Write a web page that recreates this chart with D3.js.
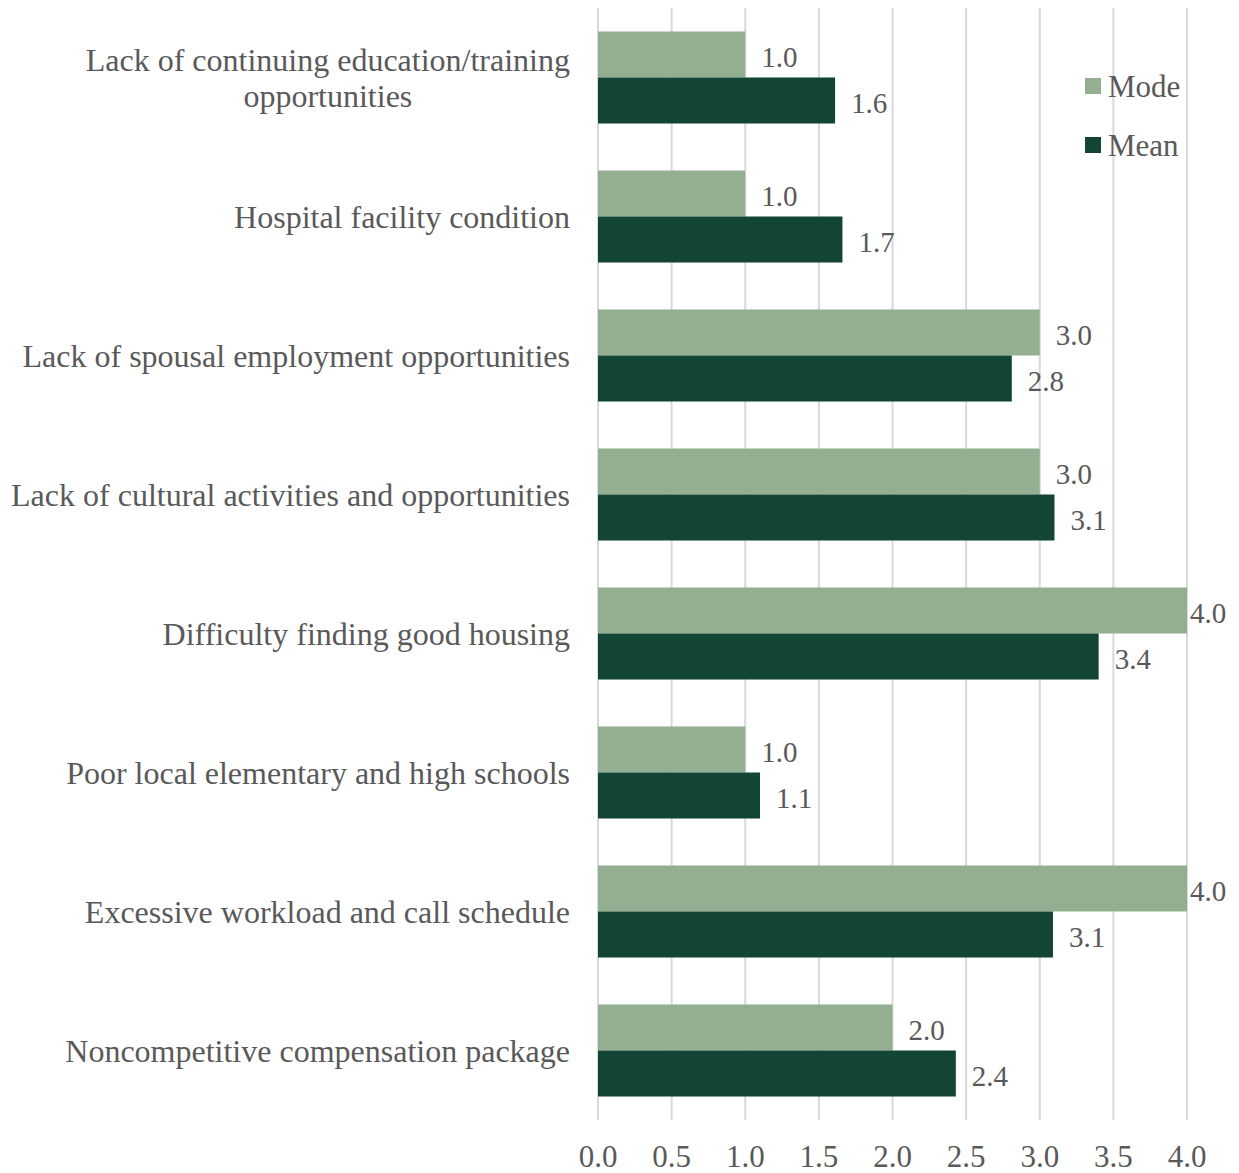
<!DOCTYPE html>
<html>
<head>
<meta charset="utf-8">
<script src="https://cdn.jsdelivr.net/npm/d3@7"></script>
<style>
  body { margin: 0; background: #fff; }
  svg { display: block; font-family: "Liberation Serif", "Times New Roman", serif; }
</style>
</head>
<body>
<svg width="1239" height="1173"></svg>
<script>
// data, top to bottom
const categories = [
  "Lack of continuing education/training opportunities",
  "Hospital facility condition",
  "Lack of spousal employment opportunities",
  "Lack of cultural activities and opportunities",
  "Difficulty finding good housing",
  "Poor local elementary and high schools",
  "Excessive workload and call schedule",
  "Noncompetitive compensation package"
];
const seriesNames = ["Mode", "Mean"];
const modeValues = [1.0, 1.0, 3.0, 3.0, 4.0, 1.0, 4.0, 2.0];
const meanValues = [1.61, 1.66, 2.81, 3.10, 3.40, 1.10, 3.09, 2.43];
const xTicks = [0, 0.5, 1, 1.5, 2, 2.5, 3, 3.5, 4];

const colors = { Mode: "#94ae92", Mean: "#124533" };
const textColor = "#595959";

const svg = d3.select("svg");

const x = d3.scaleLinear().domain([0, 4]).range([598, 1187]);
const y = d3.scaleBand().domain(categories).range([8, 1120])
  .paddingInner(0.338).paddingOuter(0.169);
const ySub = d3.scaleBand().domain(seriesNames).range([0, y.bandwidth()]);

// gridlines
svg.append("g")
  .selectAll("line")
  .data(xTicks)
  .join("line")
  .attr("x1", d => x(d)).attr("x2", d => x(d))
  .attr("y1", 8).attr("y2", 1120)
  .attr("stroke", "#d9d9d9")
  .attr("stroke-width", 2);

// tick labels
svg.append("g")
  .selectAll("text")
  .data(xTicks)
  .join("text")
  .attr("x", d => x(d))
  .attr("y", 1167)
  .attr("text-anchor", "middle")
  .attr("fill", textColor)
  .style("font-size", "31px")
  .text(d => d3.format(".1f")(d));

const rows = categories.map((c, i) => ({
  cat: c,
  vals: [
    { key: "Mode", v: modeValues[i] },
    { key: "Mean", v: meanValues[i] }
  ]
}));

const groups = svg.append("g")
  .selectAll("g")
  .data(rows)
  .join("g")
  .attr("transform", d => `translate(0,${y(d.cat)})`);

groups.selectAll("rect")
  .data(d => d.vals)
  .join("rect")
  .attr("x", x(0))
  .attr("y", d => ySub(d.key))
  .attr("width", d => x(d.v) - x(0))
  .attr("height", ySub.bandwidth())
  .attr("fill", d => colors[d.key]);

// value labels
groups.selectAll("text.val")
  .data(d => d.vals)
  .join("text")
  .attr("class", "val")
  .attr("x", d => Math.min(x(d.v) + 16, 1190))
  .attr("y", d => ySub(d.key) + ySub.bandwidth() / 2 + 2)
  .attr("dy", "0.35em")
  .attr("fill", textColor)
  .style("font-size", "29px")
  .text(d => d3.format(".1f")(d.v));

// category labels, wrapped
const catLabels = svg.append("g")
  .selectAll("text")
  .data(categories)
  .join("text")
  .attr("text-anchor", "end")
  .attr("fill", textColor)
  .style("font-size", "32px");

catLabels.each(function(c) {
  const t = d3.select(this);
  const words = c.split(" ");
  let lines = [], line = [];
  const tmp = t.append("tspan");
  words.forEach(w => {
    line.push(w);
    tmp.text(line.join(" "));
    if (tmp.node().getComputedTextLength() > 575 && line.length > 1) {
      line.pop();
      lines.push(line.join(" "));
      line = [w];
    }
  });
  lines.push(line.join(" "));
  tmp.remove();
  const lh = 36;
  const cy = y(c) + y.bandwidth() / 2;
  const top = cy - (lines.length - 1) * lh / 2;
  lines.forEach((l, i) => {
    t.append("tspan")
      .attr("x", 570)
      .attr("y", top + i * lh)
      .attr("dy", "0.35em")
      .text(l);
  });
});
// wrapped lines are centred on each other like Excel does
catLabels.each(function() {
  const t = d3.select(this);
  const spans = t.selectAll("tspan");
  if (spans.size() < 2) return;
  let maxW = 0;
  spans.each(function() { maxW = Math.max(maxW, this.getComputedTextLength()); });
  spans.attr("text-anchor", "middle").attr("x", 570 - maxW / 2);
});

// legend
const legend = svg.append("g")
  .selectAll("g")
  .data(seriesNames)
  .join("g")
  .attr("transform", (d, i) => `translate(1085,${78 + i * 59})`);
legend.append("rect")
  .attr("width", 16).attr("height", 16)
  .attr("fill", d => colors[d]);
legend.append("text")
  .attr("x", 23).attr("y", 8)
  .attr("dy", "0.35em")
  .attr("fill", textColor)
  .style("font-size", "31px")
  .text(d => d);
</script>
</body>
</html>
